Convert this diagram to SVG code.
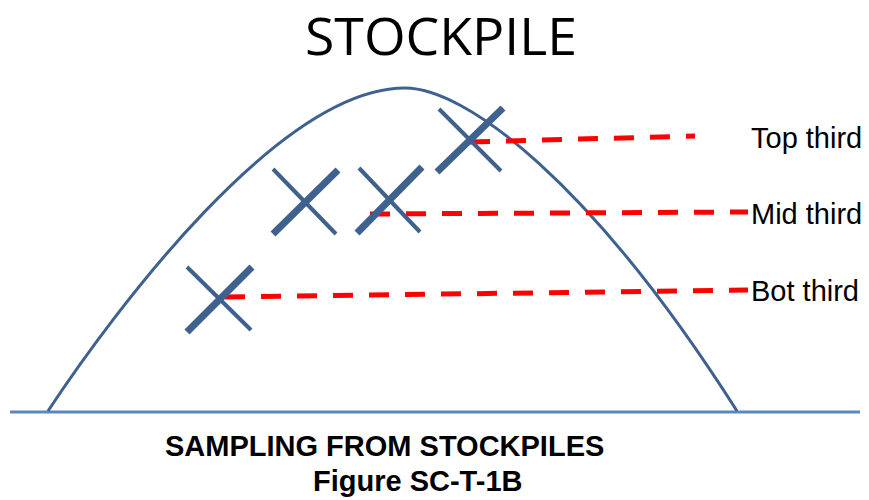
<svg xmlns="http://www.w3.org/2000/svg" width="869" height="500" viewBox="0 0 869 500">
<style>
.thin{stroke:#3e6190;stroke-width:4;stroke-linecap:butt;fill:none}
.thick{stroke:#3e6190;stroke-width:7;stroke-linecap:butt;fill:none}
.dash{stroke:#ff0000;stroke-width:5;stroke-dasharray:20 16;fill:none}
.lbl{font-family:"Liberation Sans",Arial,sans-serif;font-size:29px;fill:#000}
.cap{font-family:"Liberation Sans",Arial,sans-serif;font-size:29px;font-weight:bold;fill:#000}
</style>
<rect width="869" height="500" fill="#fff"/>
<g id="title"><text x="441" y="55" text-anchor="middle" font-family="Open Sans, sans-serif" font-size="52" textLength="272" lengthAdjust="spacingAndGlyphs">STOCKPILE</text></g>
<g id="ground"><line x1="10" y1="412" x2="860" y2="412" stroke="#5b86bf" stroke-width="3"/></g>
<g id="pile"><path d="M48,411 C115,310 280,88 405,88 C465,88 590,180 737,411" stroke="#3e6190" stroke-width="3" fill="none"/></g>
<g id="connectors">
<path class="dash" d="M470,142 L695,136"/>
<path class="dash" d="M370,214 L748,212"/>
<path class="dash" d="M225,297 L748,290"/>
</g>
<g id="x1"><line class="thin" x1="187" y1="267" x2="251" y2="330"/><line class="thick" x1="187" y1="332" x2="252" y2="267"/></g>
<g id="x2"><line class="thin" x1="273" y1="169" x2="336" y2="234"/><line class="thick" x1="273" y1="234" x2="338" y2="170"/></g>
<g id="x3"><line class="thin" x1="359" y1="168" x2="420" y2="232"/><line class="thick" x1="357" y1="233" x2="422" y2="167"/></g>
<g id="x4"><line class="thin" x1="439" y1="109" x2="501" y2="171"/><line class="thick" x1="437" y1="172" x2="503" y2="108"/></g>
<g id="top"><text class="lbl" x="751" y="148">Top third</text></g>
<g id="mid"><text class="lbl" x="751" y="224">Mid third</text></g>
<g id="bot"><text class="lbl" x="751" y="301">Bot third</text></g>
<g id="caption">
<text class="cap" x="165" y="456">SAMPLING FROM STOCKPILES</text>
<text class="cap" x="313" y="491">Figure SC-T-1B</text>
</g>
</svg>
